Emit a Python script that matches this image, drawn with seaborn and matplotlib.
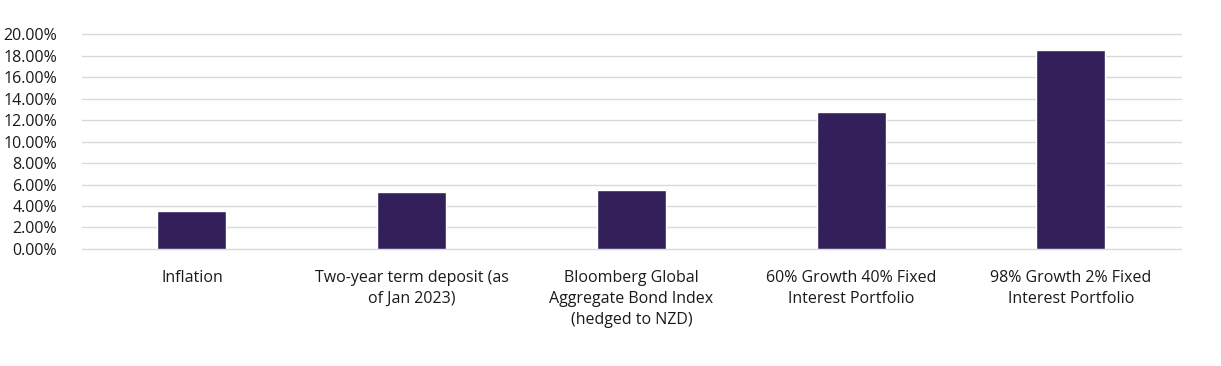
import matplotlib
matplotlib.use('Agg')
import matplotlib.pyplot as plt
import seaborn as sns
import pandas as pd
from matplotlib.ticker import PercentFormatter, MultipleLocator

categories = [
    'Inflation',
    'Two-year term deposit (as\nof Jan 2023)',
    'Bloomberg Global\nAggregate Bond Index\n(hedged to NZD)',
    '60% Growth 40% Fixed\nInterest Portfolio',
    '98% Growth 2% Fixed\nInterest Portfolio',
]
returns = [3.53, 5.30, 5.46, 12.74, 18.48]

BAR_COLOR = '#33205a'

sns.set_theme(style='white')
plt.rcParams['font.family'] = ['Open Sans', 'DejaVu Sans']

df = pd.DataFrame({'category': categories, 'value': returns})

fig = plt.figure(figsize=(12.21, 3.66), dpi=100)
ax = fig.add_axes([0.0672, 0.3197, 0.8998, 0.5873])
sns.barplot(data=df, x='category', y='value', color=BAR_COLOR, width=0.314,
            saturation=1, ax=ax, zorder=3)

ax.set_ylim(0, 20)
ax.yaxis.set_major_locator(MultipleLocator(2))
ax.yaxis.set_major_formatter(PercentFormatter(decimals=2))
ax.grid(axis='y', color='#d9d9d9', linewidth=1, zorder=0)
ax.set_axisbelow(True)
for line in ax.get_ygridlines():
    line.set_clip_on(False)
for s in ax.spines.values():
    s.set_visible(False)
ax.set_xlabel('')
ax.set_ylabel('')
ax.tick_params(axis='y', length=0, pad=18, labelsize=11.5, labelcolor='#1a1a1a')
ax.tick_params(axis='x', length=0, pad=15, labelsize=11.5, labelcolor='#1a1a1a')
for lbl in ax.get_xticklabels():
    lbl.set_linespacing(1.42)
    lbl.set_verticalalignment('top')

fig.savefig('out.png', dpi=100)
